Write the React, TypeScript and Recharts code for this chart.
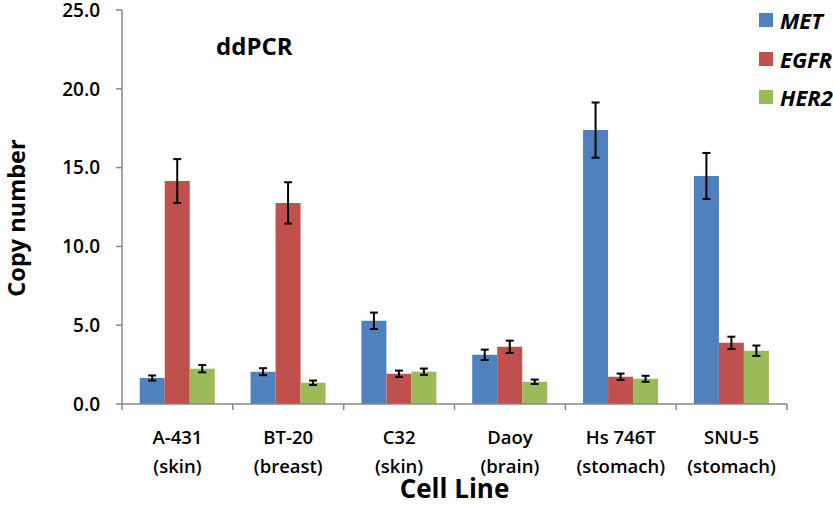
import React from "react";
import { BarChart, Bar, XAxis, YAxis, ErrorBar, Label } from "recharts";

const cellLines = ["A-431", "BT-20", "C32", "Daoy", "Hs 746T", "SNU-5"];
const tissues = ["(skin)", "(breast)", "(skin)", "(brain)", "(stomach)", "(stomach)"];

const met = [1.65, 2.05, 5.28, 3.12, 17.38, 14.47];
const metErr = [0.16, 0.22, 0.52, 0.33, 1.75, 1.46];
const egfr = [14.15, 12.76, 1.92, 3.63, 1.73, 3.88];
const egfrErr = [1.39, 1.31, 0.2, 0.39, 0.2, 0.39];
const her2 = [2.24, 1.35, 2.05, 1.41, 1.6, 3.38];
const her2Err = [0.23, 0.14, 0.2, 0.14, 0.19, 0.33];

const yTicks = [0, 5, 10, 15, 20, 25];

const series = [
  { key: "met", err: "metErr", name: "MET", color: "#4F81BD" },
  { key: "egfr", err: "egfrErr", name: "EGFR", color: "#C0504D" },
  { key: "her2", err: "her2Err", name: "HER2", color: "#9BBB59" },
];

const data = cellLines.map((c, i) => ({
  cell: c,
  tissue: tissues[i],
  met: met[i],
  metErr: metErr[i],
  egfr: egfr[i],
  egfrErr: egfrErr[i],
  her2: her2[i],
  her2Err: her2Err[i],
}));

const FONT = "'Open Sans', 'DejaVu Sans', sans-serif";
const AXIS = "#878787";

function CellTick(props: any) {
  const { x, y, payload, index } = props;
  const half = payload?.offset ?? 55.4;
  const row = data[index];
  return (
    <g>
      <line x1={x - half} x2={x - half} y1={y} y2={y + 6} stroke={AXIS} strokeWidth={1.5} />
      {index === data.length - 1 && (
        <line x1={x + half} x2={x + half} y1={y} y2={y + 6} stroke={AXIS} strokeWidth={1.5} />
      )}
      <text x={x} y={y + 40} textAnchor="middle" fontSize={18.5} fontWeight={600} fill="#000" fontFamily={FONT}>
        {row.cell}
      </text>
      <text x={x} y={y + 69} textAnchor="middle" fontSize={18.5} fontWeight={600} fill="#000" fontFamily={FONT}>
        {row.tissue}
      </text>
    </g>
  );
}

// y-axis title, rotated, centred on the reference's title position
function YTitle() {
  const cx = 16;
  const cy = 218;
  return (
    <text
      x={cx}
      y={cy}
      transform={`rotate(-90 ${cx} ${cy})`}
      textAnchor="middle"
      dominantBaseline="central"
      fontSize={23.5}
      fontWeight={700}
      fill="#000"
      fontFamily={FONT}
    >
      Copy number
    </text>
  );
}

export default function App() {
  return (
    <div style={{ position: "absolute", left: 0, top: 0, width: 833, height: 505, background: "#fff", fontFamily: FONT }}>
      <BarChart
        width={833}
        height={505}
        data={data}
        margin={{ top: 10, right: 46, bottom: 0, left: 0 }}
        barCategoryGap="16%"
        barGap={0}
      >
        <XAxis
          dataKey="cell"
          height={101}
          axisLine={{ stroke: AXIS, strokeWidth: 1.5 }}
          tickLine={false}
          tickSize={0}
          tickMargin={0}
          interval={0}
          tick={<CellTick />}
        >
          <Label
            value="Cell Line"
            position="insideBottom"
            offset={7}
            style={{ fontSize: 26, fontWeight: 700, fill: "#000", fontFamily: FONT }}
          />
        </XAxis>
        <YAxis
          width={122}
          domain={[0, 25]}
          ticks={yTicks}
          interval={0}
          tickFormatter={(v: number) => v.toFixed(1)}
          axisLine={{ stroke: AXIS, strokeWidth: 1.5 }}
          tickLine={{ stroke: AXIS, strokeWidth: 1.5 }}
          tickSize={6}
          tickMargin={16}
          tick={{ fontSize: 19, fontWeight: 600, fill: "#000", fontFamily: FONT }}
        >
          <Label content={<YTitle />} />
        </YAxis>
        {series.map((s) => (
          <Bar key={s.key} dataKey={s.key} name={s.name} fill={s.color} isAnimationActive={false}>
            <ErrorBar dataKey={s.err} width={4} stroke="#000" strokeWidth={2} direction="y" />
          </Bar>
        ))}
      </BarChart>
      <div
        style={{ position: "absolute", left: 216, top: 29, fontSize: 24, fontWeight: 700, color: "#000", lineHeight: "34px" }}
      >
        ddPCR
      </div>
      <div style={{ position: "absolute", left: 759, top: 1 }}>
        {series.map((s) => (
          <div key={s.key} style={{ display: "flex", alignItems: "center", height: 38.5 }}>
            <div style={{ width: 14, height: 14, background: s.color, marginRight: 7 }} />
            <span style={{ fontSize: 22, fontWeight: 700, fontStyle: "italic", color: "#000", lineHeight: "28px" }}>
              {s.name}
            </span>
          </div>
        ))}
      </div>
    </div>
  );
}
